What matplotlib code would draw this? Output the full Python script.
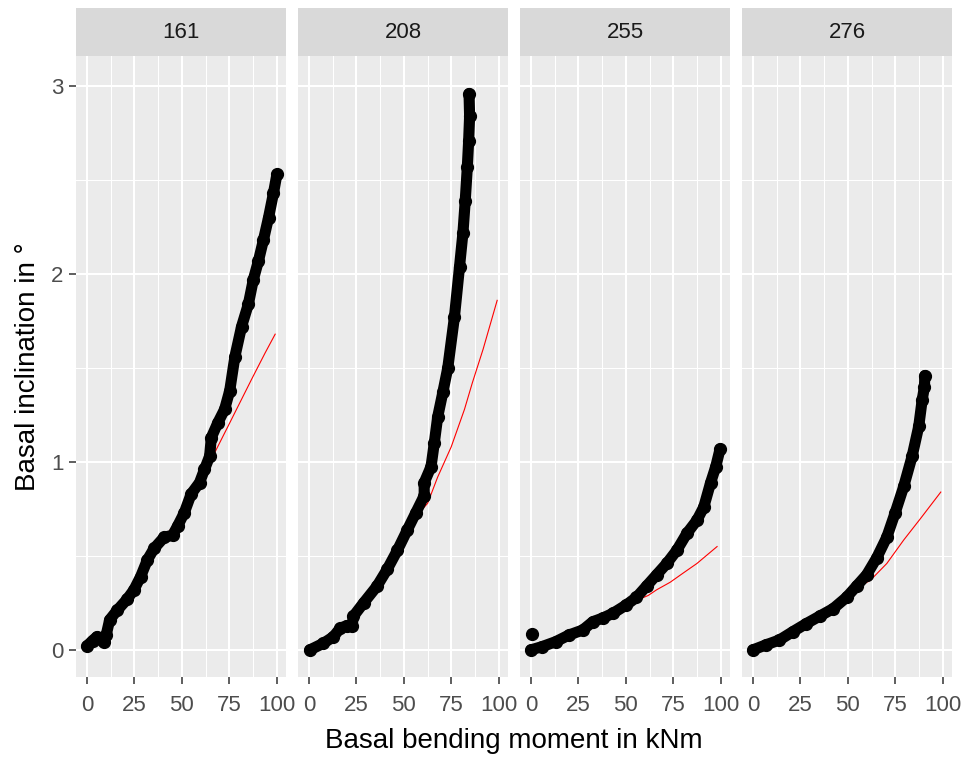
import matplotlib
matplotlib.use("Agg")
import matplotlib.pyplot as plt
from matplotlib.ticker import MultipleLocator

plt.rcParams['font.family'] = ['Liberation Sans', 'DejaVu Sans']

# facet labels
panels = ["161", "208", "255", "276"]

# measured response (black points), one list pair per facet
x_161 = [0, 3, 5.3, 8.8, 10.2, 12, 15.9, 21.2, 24.8, 28.3, 31.9, 35.4, 40.7, 45.1, 47.8, 51.3,
         54.9, 59.3, 61.9, 64.6, 65.5, 69, 72.5, 75.2, 77.9, 81.4, 85, 87.6, 90.3,
         92.9, 95.6, 98.2, 100]
y_161 = [0.02, 0.05, 0.07, 0.04, 0.08, 0.16, 0.21, 0.27, 0.32, 0.39, 0.48, 0.54, 0.60, 0.61, 0.66, 0.73,
         0.83, 0.89, 0.96, 1.03, 1.13, 1.21, 1.28, 1.38, 1.56, 1.72, 1.84, 1.97, 2.07,
         2.18, 2.30, 2.43, 2.53]

x_208 = [0.5, 7.6, 12.9, 16.5, 20, 22.7, 23.5, 28.8, 35.9, 41.3, 46.6, 51.9, 56.3, 60.7,
         60.7, 64.3, 66, 67.8, 70.5, 73.1, 76.6, 79.3, 81.1, 82.3, 83.4, 84.1, 84.6, 84.3]
y_208 = [0, 0.035, 0.07, 0.115, 0.13, 0.125, 0.18, 0.25, 0.34, 0.43, 0.53, 0.64, 0.73, 0.82,
         0.89, 0.975, 1.10, 1.24, 1.37, 1.50, 1.77, 2.04, 2.22, 2.39, 2.57, 2.71, 2.84, 2.96]

x_255 = [0, 6, 13.1, 20.2, 27.3, 32.6, 37.9, 43.2, 50.3, 55.6, 60.9, 66.2, 71.5, 76.8,
         82.1, 87.4, 91, 94.6, 97.3, 99.6]
y_255 = [0, 0.018, 0.044, 0.08, 0.106, 0.15, 0.17, 0.195, 0.24, 0.28, 0.34, 0.40, 0.46, 0.53,
         0.62, 0.69, 0.76, 0.89, 0.975, 1.07]
x_255_out = [0.7]
y_255_out = [0.085]

x_276 = [0, 6.9, 14, 21, 28.1, 35.2, 42.3, 49.3, 54.6, 59.9, 65.2, 70.5, 74.9, 79.4,
         83.8, 87.3, 89.1, 90.3, 90.5]
y_276 = [0, 0.027, 0.053, 0.097, 0.14, 0.18, 0.22, 0.28, 0.34, 0.40, 0.49, 0.60, 0.73, 0.87,
         1.03, 1.19, 1.33, 1.40, 1.46]

# model curve (red line)
xm_161 = [0, 5.3, 10.2, 15.9, 21.2, 31.9, 40.7, 51.3, 59.3, 64.6, 67.3, 74.3, 86.7, 93.8, 99.1]
ym_161 = [0.02, 0.06, 0.08, 0.21, 0.27, 0.48, 0.60, 0.73, 0.89, 1.02, 1.05, 1.19, 1.44, 1.58, 1.68]

xm_208 = [0.5, 12.9, 22, 35.9, 46.6, 56.3, 62.5, 67.8, 74.9, 81.9, 86, 91.7, 99.1]
ym_208 = [0, 0.07, 0.15, 0.34, 0.53, 0.71, 0.78, 0.92, 1.08, 1.28, 1.42, 1.60, 1.86]

xm_255 = [0, 20.2, 37.9, 50.3, 61.8, 66.2, 73.3, 80.3, 87.4, 92.7, 98]
ym_255 = [0, 0.08, 0.17, 0.24, 0.29, 0.32, 0.36, 0.41, 0.46, 0.505, 0.55]

xm_276 = [0, 21, 42.3, 54.6, 61.8, 70.5, 79.4, 88.3, 98.9]
ym_276 = [0, 0.097, 0.22, 0.33, 0.37, 0.46, 0.585, 0.70, 0.84]

measured = [(x_161, y_161), (x_208, y_208), (x_255, y_255), (x_276, y_276)]
model = [(xm_161, ym_161), (xm_208, ym_208), (xm_255, ym_255), (xm_276, ym_276)]

W, H = 966, 757
fig = plt.figure(figsize=(W / 100, H / 100), dpi=100)

panel_left = [76, 298, 520, 742]
panel_w = 210
top_px, strip_px, bottom_px = 8, 56, 677

for i, name in enumerate(panels):
    l = panel_left[i] / W
    w = panel_w / W
    ax = fig.add_axes([l, 1 - bottom_px / H, w, (bottom_px - strip_px) / H])
    ax.set_facecolor('#EBEBEB')
    ax.set_xlim(-5.7, 104.8)
    ax.set_ylim(-0.144, 3.16)
    ax.xaxis.set_major_locator(MultipleLocator(25))
    ax.xaxis.set_minor_locator(MultipleLocator(12.5))
    ax.yaxis.set_major_locator(MultipleLocator(1))
    ax.yaxis.set_minor_locator(MultipleLocator(0.5))
    ax.grid(which='major', color='white', linewidth=1.5)
    ax.grid(which='minor', color='white', linewidth=0.75)
    ax.set_axisbelow(True)
    for s in ax.spines.values():
        s.set_visible(False)
    ax.tick_params(which='major', length=5, width=1.1, color='#333333',
                   labelsize=16, labelcolor='#4D4D4D')
    ax.tick_params(axis='x', which='major', pad=8)
    ax.tick_params(axis='y', which='major', pad=4)
    ax.tick_params(which='minor', length=0)
    if i > 0:
        ax.tick_params(axis='y', which='both', length=0, labelleft=False)

    mx, my = model[i]
    ax.plot(mx, my, color='red', linewidth=0.8, zorder=2)
    px, py = measured[i]
    ax.plot(px, py, color='black', linewidth=8, solid_capstyle='round',
            solid_joinstyle='round', marker='o', markersize=8.5, zorder=3)
    if name == "255":
        ax.plot(x_255_out, y_255_out, 'o', color='black', markersize=8.5, zorder=3)

    sax = fig.add_axes([l, 1 - strip_px / H, w, (strip_px - top_px) / H])
    sax.set_facecolor('#D9D9D9')
    sax.set_xticks([])
    sax.set_yticks([])
    for s in sax.spines.values():
        s.set_visible(False)
    sax.text(0.5, 0.5, name, ha='center', va='center', fontsize=16,
             color='#1A1A1A', transform=sax.transAxes)

fig.text((76 + 952) / 2 / W, 1 - 741 / H, 'Basal bending moment in kNm',
         ha='center', va='center', fontsize=20)
fig.text(28 / W, 1 - 367 / H, 'Basal inclination in °', ha='center', va='center',
         rotation=90, fontsize=20)

fig.savefig('out.png', dpi=100)
